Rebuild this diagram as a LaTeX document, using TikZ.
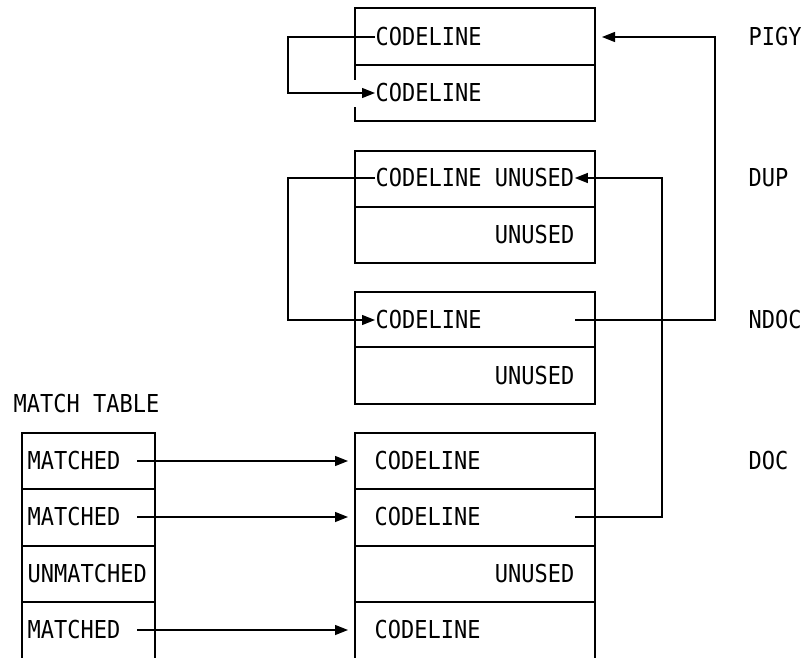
\documentclass[tikz,border=0pt]{standalone}
\usepackage{fontspec}
\newfontfamily\monofont[FakeStretch=0.89]{DejaVu Sans Mono}
\usetikzlibrary{arrows.meta}
\begin{document}
\begin{tikzpicture}[x=1pt,y=-1pt,line width=1.4pt,
  txt/.style={inner sep=0pt,font=\monofont\fontsize{24.7}{30}\selectfont},
  lt/.style={txt,anchor=west},
  rt/.style={txt,anchor=east},
  arr/.style={-{Triangle[length=13pt,width=10pt]}}]
\useasboundingbox (0,0) rectangle (806,658);
% PIGY box (gap in left edge)
\draw (355,80) -- (355,8) -- (595,8) -- (595,121) -- (355,121) -- (355,107);
\draw (355,65) -- (595,65);
% DUP box
\draw (355,151) rectangle (595,263);
\draw (355,207) -- (595,207);
% NDOC box
\draw (355,292) rectangle (595,404);
\draw (355,347) -- (595,347);
% DOC box (open at bottom)
\draw (355,658) -- (355,433) -- (595,433) -- (595,658);
\foreach \yy in {489,546,602} \draw (355,\yy) -- (595,\yy);
% Match table (open at bottom)
\draw (22,658) -- (22,433) -- (155,433) -- (155,658);
\foreach \yy in {489,546,602} \draw (22,\yy) -- (155,\yy);
% texts
\node[lt] (p1) at (375,37) {CODELINE};
\node[lt] (p2) at (375,93) {CODELINE};
\node[lt] (d1) at (375,178) {CODELINE UNUSED};
\node[rt] (d2) at (575,235) {UNUSED};
\node[lt] (n1) at (375,320) {CODELINE};
\node[rt] (n2) at (575,376) {UNUSED};
\node[lt] (c1) at (374,461) {CODELINE};
\node[lt] (c2) at (374,517) {CODELINE};
\node[rt] (c3) at (575,574) {UNUSED};
\node[lt] (c4) at (374,630) {CODELINE};
\node[lt] (m0) at (13,404) {MATCH TABLE};
\node[lt] (m1) at (27,461) {MATCHED};
\node[lt] (m2) at (27,517) {MATCHED};
\node[lt] (m3) at (27,574) {UNMATCHED};
\node[lt] (m4) at (27,630) {MATCHED};
\node[lt] (lpigy) at (748,37) {PIGY};
\node[lt] (ldup) at (748,178) {DUP};
\node[lt] (lndoc) at (748,320) {NDOC};
\node[lt] (ldoc) at (748,461) {DOC};
% connector endpoints
\coordinate (n1out) at (575,320);
\coordinate (c2out) at (575,517);
\coordinate (pigyin) at (602,37);
% connectors
\draw[arr] (p1.west) -- ++(-87,0) |- (p2.west);
\draw[arr] (d1.west) -- ++(-87,0) |- (n1.west);
\draw[arr] (n1out) -- ++(140,0) |- (pigyin);
\draw[arr] (c2out) -- ++(87,0) |- (d1.east);
\draw[arr] ([xshift=16pt]m1.east) -- ([xshift=-26pt]c1.west);
\draw[arr] ([xshift=16pt]m2.east) -- ([xshift=-26pt]c2.west);
\draw[arr] ([xshift=16pt]m4.east) -- ([xshift=-26pt]c4.west);
\end{tikzpicture}
\end{document}
